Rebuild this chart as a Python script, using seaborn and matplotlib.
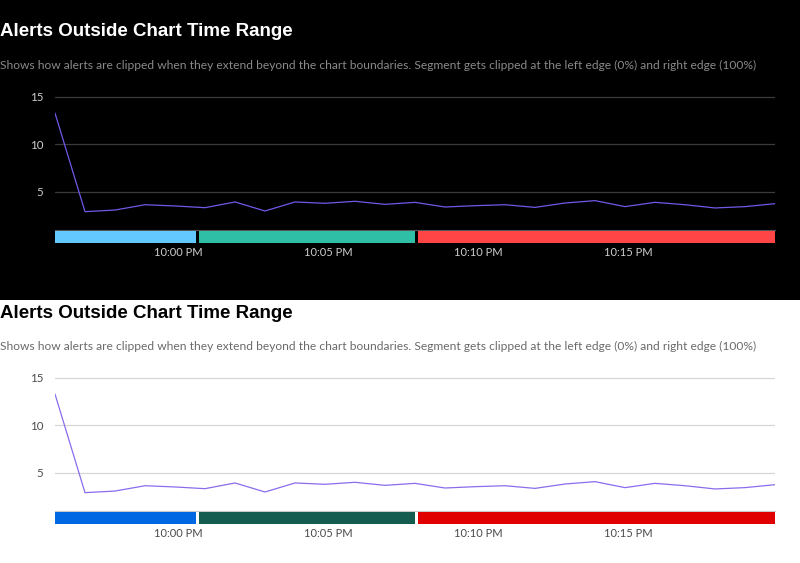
import pandas as pd
import matplotlib
matplotlib.use('Agg')
import matplotlib.pyplot as plt
import matplotlib.dates as mdates
import seaborn as sns

# one point per minute
times = ['21:55:53', '21:56:53', '21:57:53', '21:58:53', '21:59:53',
         '22:00:53', '22:01:53', '22:02:53', '22:03:53', '22:04:53',
         '22:05:53', '22:06:53', '22:07:53', '22:08:53', '22:09:53',
         '22:10:53', '22:11:53', '22:12:53', '22:13:53', '22:14:53',
         '22:15:53', '22:16:53', '22:17:53', '22:18:53', '22:19:53']
alert_counts = [13.3, 2.93, 3.1, 3.66, 3.53, 3.35, 3.95, 3.0, 3.95, 3.81,
                4.02, 3.7, 3.91, 3.42, 3.56, 3.66, 3.38, 3.84, 4.09, 3.46,
                3.91, 3.66, 3.32, 3.46, 3.77]

# alert segments (the first and last run past the chart edges)
seg_starts = ['21:50:00', '22:00:41', '22:07:59']
seg_ends = ['22:00:35', '22:07:53', '22:25:00']

tick_times = ['22:00:00', '22:05:00', '22:10:00', '22:15:00']
tick_labels = ['10:00 PM', '10:05 PM', '10:10 PM', '10:15 PM']
y_ticks = [5, 10, 15]

title = 'Alerts Outside Chart Time Range'
subtitle = ('Shows how alerts are clipped when they extend beyond the chart boundaries. '
            'Segment gets clipped at the left edge (0%) and right edge (100%)')

day = '2024-01-01 '
df = pd.DataFrame({'time': pd.to_datetime([day + t for t in times]), 'alerts': alert_counts})
seg_df = pd.DataFrame({'start': pd.to_datetime([day + t for t in seg_starts]),
                       'end': pd.to_datetime([day + t for t in seg_ends])})
ticks = pd.to_datetime([day + t for t in tick_times])

themes = [
    {'bg': '#000000', 'title': '#ffffff', 'sub': '#8a8a8a', 'tick': '#cfcfcf',
     'grid': '#3a3a3a', 'base': '#555555', 'line': '#7357e8',
     'segs': ['#62c8fd', '#2fbfa6', '#ff4545'], 'offset': 0},
    {'bg': '#ffffff', 'title': '#000000', 'sub': '#6a6a6a', 'tick': '#4a4a4a',
     'grid': '#d6d6d6', 'base': '#c8c8c8', 'line': '#8a6cec',
     'segs': ['#0068e2', '#135c4f', '#e00000'], 'offset': 281},
]

W, H = 800, 563
sns.set_theme(style='white')
plt.rcParams['font.family'] = ['Lato', 'DejaVu Sans']

fig = plt.figure(figsize=(W / 100, H / 100), dpi=100)
fig.patch.set_facecolor('white')


def px_axes(x0, y0, x1, y1):
    return fig.add_axes([x0 / W, 1 - y1 / H, (x1 - x0) / W, (y1 - y0) / H])


# black backdrop for the dark panel
bg = px_axes(0, 0, 800, 300)
bg.set_facecolor('#000000')
bg.set_xticks([])
bg.set_yticks([])
for s in bg.spines.values():
    s.set_visible(False)
bg.set_zorder(-10)

x_min, x_max = df['time'].min(), df['time'].max()

for th in themes:
    off = th['offset']
    fig.text(0.0, 1 - (32 + off) / H, title, ha='left', va='center', fontsize=13.5,
             fontweight='bold', color=th['title'], family=['Liberation Sans', 'DejaVu Sans'])
    fig.text(0.0, 1 - (65 + off) / H, subtitle, ha='left', va='center', fontsize=8.62,
             color=th['sub'])

    ax = px_axes(55, 87 + off, 775, 230 + off)
    ax.patch.set_alpha(0)
    sns.lineplot(data=df, x='time', y='alerts', ax=ax, color=th['line'], linewidth=0.9)
    ax.set_xlim(x_min, x_max)
    ax.set_ylim(1.0, 16.05)
    ax.set_yticks(y_ticks)
    ax.set_yticklabels([str(v) for v in y_ticks])
    ax.yaxis.grid(True, color=th['grid'], linewidth=0.9)
    ax.set_axisbelow(True)
    ax.set_xticks([])
    ax.set_xlabel('')
    ax.set_ylabel('')
    ax.tick_params(axis='y', length=0, pad=8.5, labelsize=8.3, labelcolor=th['tick'])
    for name, s in ax.spines.items():
        s.set_visible(name == 'bottom')
    ax.spines['bottom'].set_color(th['base'])
    ax.spines['bottom'].set_linewidth(0.8)

    bx = px_axes(55, 231.3 + off, 775, 243.3 + off)
    bx.patch.set_alpha(0)
    for (start, end), col in zip(seg_df[['start', 'end']].itertuples(index=False), th['segs']):
        s0 = mdates.date2num(max(start, x_min))
        s1 = mdates.date2num(min(end, x_max))
        bx.broken_barh([(s0, s1 - s0)], (0, 1), facecolors=col, edgecolor='none', linewidth=0)
    bx.set_xlim(mdates.date2num(x_min), mdates.date2num(x_max))
    bx.set_ylim(0, 1)
    bx.set_yticks([])
    bx.set_xticks(mdates.date2num(ticks))
    bx.set_xticklabels(tick_labels)
    bx.tick_params(axis='x', length=0, pad=3, labelsize=8, labelcolor=th['tick'])
    for s in bx.spines.values():
        s.set_visible(False)

fig.savefig('out.png', dpi=100)
